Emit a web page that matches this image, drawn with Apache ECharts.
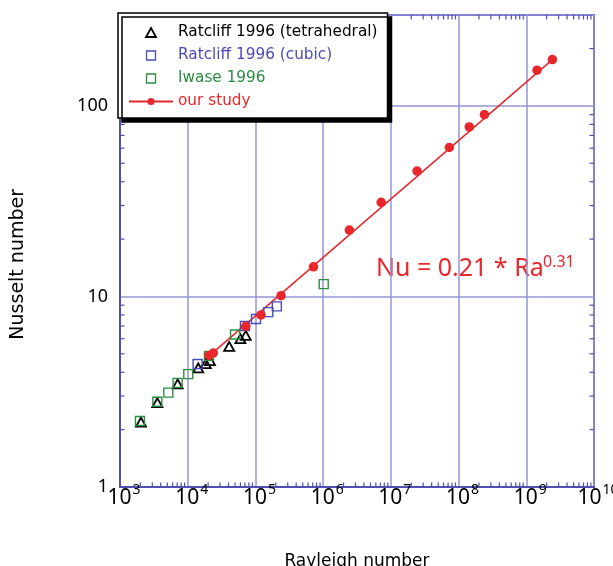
<!DOCTYPE html>
<html>
<head>
<meta charset="utf-8">
<script src="https://cdn.jsdelivr.net/npm/echarts@6/dist/echarts.min.js"></script>
<style>
html, body { margin: 0; padding: 0; background: #fff; }
#chart { width: 613px; height: 566px; }
</style>
</head>
<body>
<div id="chart"></div>
<script>
// Ratcliff 1996 (tetrahedral)
var tetraRa = [2.04e3, 3.56e3, 7.1e3, 1.43e4, 1.85e4, 2.13e4, 4.1e4, 6.0e4, 7.2e4];
var tetraNu = [2.19, 2.77, 3.48, 4.22, 4.44, 4.61, 5.47, 6.0, 6.25];
// Ratcliff 1996 (cubic)
var cubicRa = [1.4e4, 7.0e4, 1.02e5, 1.55e5, 2.07e5];
var cubicNu = [4.42, 7.0, 7.62, 8.28, 8.87];
// Iwase 1996
var iwaseRa = [1.97e3, 3.56e3, 5.17e3, 7.1e3, 1.02e4, 2.06e4, 5.0e4, 1.02e6];
var iwaseNu = [2.22, 2.8, 3.13, 3.52, 3.91, 4.88, 6.32, 11.6];
// our study
var oursRa = [2.06e4, 2.39e4, 7.2e4, 1.21e5, 2.39e5, 7.2e5, 2.44e6, 7.2e6, 2.44e7, 7.3e7, 1.44e8, 2.41e8, 1.44e9, 2.43e9];
var oursNu = [4.9, 5.05, 6.97, 8.0, 10.1, 14.3, 22.3, 31.2, 45.5, 60.5, 77.6, 90, 154, 175];
// fit line (ends)
var fitRa = [1.86e4, 2.43e9];
var fitNu = [4.72, 175];

var xMin = 1e3, xMax = 1e10;
var yMin = 1, yMax = 300;
var minorMult = [2, 3, 4, 5, 6, 7, 8, 9];

var FONT = 'Noto Sans';
var WIDE = 'DejaVu Sans';
var RED = '#e8262b', BLUE = '#4b4bb5', GREEN = '#2d8c42';
var FRAME = '#4f4fb2', GRID = '#9595d6';

function pairs(xs, ys) {
	return xs.map(function (x, i) { return [x, ys[i]]; });
}

// minor ticks of the log axes (kind 0 = x, 1 = y)
var minorData = [];
for (var e = 3; e < 10; e++) {
	minorMult.forEach(function (m) { minorData.push([m * Math.pow(10, e), yMin, 0]); });
}
for (var k = 0; k < 3; k++) {
	minorMult.forEach(function (m) {
		var v = m * Math.pow(10, k);
		if (v < yMax) minorData.push([xMin, v, 1]);
	});
}

function isPow10(v) {
	var l = Math.log10(v);
	return Math.abs(l - Math.round(l)) < 1e-6;
}

function renderMinor(params, api) {
	var v, a, b, len = 4.5;
	var st = { stroke: FRAME, lineWidth: 1.2 };
	if (api.value(2) === 0) {
		v = api.value(0);
		a = api.coord([v, yMin]);
		b = api.coord([v, yMax]);
		return { type: 'group', children: [
			{ type: 'line', shape: { x1: a[0], y1: a[1], x2: a[0], y2: a[1] - len }, style: st },
			{ type: 'line', shape: { x1: b[0], y1: b[1], x2: b[0], y2: b[1] + len }, style: st }
		] };
	}
	v = api.value(1);
	a = api.coord([xMin, v]);
	b = api.coord([xMax, v]);
	return { type: 'group', children: [
		{ type: 'line', shape: { x1: a[0], y1: a[1], x2: a[0] + len, y2: a[1] }, style: st },
		{ type: 'line', shape: { x1: b[0], y1: b[1], x2: b[0] - len, y2: b[1] }, style: st }
	] };
}

var triIcon = 'path://M5,0 L10,9 L0,9 Z';
var sqIcon = 'path://M0,0 L10,0 L10,10 L0,10 Z';

var chart = echarts.init(document.getElementById('chart'));

chart.setOption({
	backgroundColor: '#fff',
	animation: false,
	textStyle: { fontFamily: FONT },
	grid: {
		left: 120, right: 19, top: 15, bottom: 79,
		outerBoundsMode: 'none', containLabel: false,
		show: true, borderColor: FRAME, borderWidth: 2, backgroundColor: 'transparent'
	},
	legend: {
		orient: 'vertical',
		left: 118, top: 13,
		padding: [12, 10, 9, 10],
		itemWidth: 44, itemHeight: 9, itemGap: 8,
		symbolKeepAspect: true,
		backgroundColor: '#fff',
		borderColor: '#000', borderWidth: 1.5, borderRadius: 0,
		shadowColor: '#000', shadowBlur: 0, shadowOffsetX: 4, shadowOffsetY: 4,
		selectedMode: false,
		textStyle: { fontFamily: WIDE, fontSize: 15.3 },
		data: [
			{ name: 'Ratcliff 1996 (tetrahedral)', icon: triIcon, textStyle: { color: '#000' }, itemStyle: { borderWidth: 1.8 } },
			{ name: 'Ratcliff 1996 (cubic)', icon: sqIcon, textStyle: { color: BLUE }, itemStyle: { borderWidth: 1.3 } },
			{ name: 'Iwase 1996', icon: sqIcon, textStyle: { color: GREEN }, itemStyle: { borderWidth: 1.3 } },
			{ name: 'our study', textStyle: { color: RED } }
		]
	},
	xAxis: {
		type: 'log', logBase: 10, min: xMin, max: xMax, interval: 1,
		name: 'Rayleigh number', nameLocation: 'middle', nameGap: 66,
		nameTextStyle: { fontFamily: WIDE, fontSize: 17, color: '#000' },
		axisLine: { show: true, lineStyle: { color: FRAME, width: 2 } },
		axisTick: { show: false },
		splitLine: { show: true, lineStyle: { color: GRID, width: 1.5 } },
		axisLabel: {
			margin: -4,
			fontFamily: FONT, fontSize: 21, color: '#000',
			lineHeight: 30,
			formatter: function (v) {
				if (!isPow10(v)) return '';
				return '{p|}10{s|' + Math.round(Math.log10(v)) + '}';
			},
			rich: {
				p: { width: 8, fontSize: 21, lineHeight: 30 },
				s: { fontFamily: FONT, fontSize: 14, lineHeight: 14, color: '#000', verticalAlign: 'top', padding: [0, 0, 0, 1] }
			}
		}
	},
	yAxis: {
		type: 'log', logBase: 10, min: yMin, max: yMax, interval: 1,
		axisLine: { show: true, lineStyle: { color: FRAME, width: 2 } },
		axisTick: { show: false },
		splitLine: { show: true, lineStyle: { color: GRID, width: 1.5 } },
		axisLabel: {
			margin: 12,
			fontFamily: FONT, fontSize: 18, color: '#000',
			formatter: function (v) { return isPow10(v) ? String(Math.round(v)) : ''; }
		}
	},
	graphic: [
		{
			type: 'text', left: 9, top: 189, rotation: Math.PI / 2,
			style: { text: 'Nusselt number', font: '19px "DejaVu Sans"', fill: '#000' }
		},
		{
			type: 'text', left: 376, top: 256,
			style: { text: 'Nu = 0.21 * Ra', font: '25px "Noto Sans"', fill: RED }
		},
		{
			type: 'text', left: 543, top: 254,
			style: { text: '0.31', font: '16px "Noto Sans"', fill: RED }
		}
	],
	series: [
		{
			name: 'minor', type: 'custom', renderItem: renderMinor,
			data: minorData, encode: { x: 0, y: 1 }, clip: false, silent: true, z: 1
		},
		{
			name: 'our study', type: 'line', data: pairs(fitRa, fitNu),
			symbol: 'circle', showSymbol: false, color: RED,
			lineStyle: { color: RED, width: 1.5 }, z: 3
		},
		{
			name: 'Ratcliff 1996 (tetrahedral)', type: 'scatter', data: pairs(tetraRa, tetraNu),
			symbol: 'triangle', symbolSize: [10, 9], color: '#000',
			itemStyle: { color: 'transparent', borderColor: '#000', borderWidth: 1.8, opacity: 1 }, z: 4
		},
		{
			name: 'Ratcliff 1996 (cubic)', type: 'scatter', data: pairs(cubicRa, cubicNu),
			symbol: 'rect', symbolSize: 9, color: BLUE,
			itemStyle: { color: 'transparent', borderColor: BLUE, borderWidth: 1.4, opacity: 1 }, z: 4
		},
		{
			name: 'Iwase 1996', type: 'scatter', data: pairs(iwaseRa, iwaseNu),
			symbol: 'rect', symbolSize: 9, color: GREEN,
			itemStyle: { color: 'transparent', borderColor: GREEN, borderWidth: 1.4, opacity: 1 }, z: 4
		},
		{
			name: 'our study', type: 'scatter', data: pairs(oursRa, oursNu),
			symbol: 'circle', symbolSize: 9.5, color: RED,
			itemStyle: { color: RED, opacity: 1 }, z: 5
		}
	]
});
</script>
</body>
</html>
